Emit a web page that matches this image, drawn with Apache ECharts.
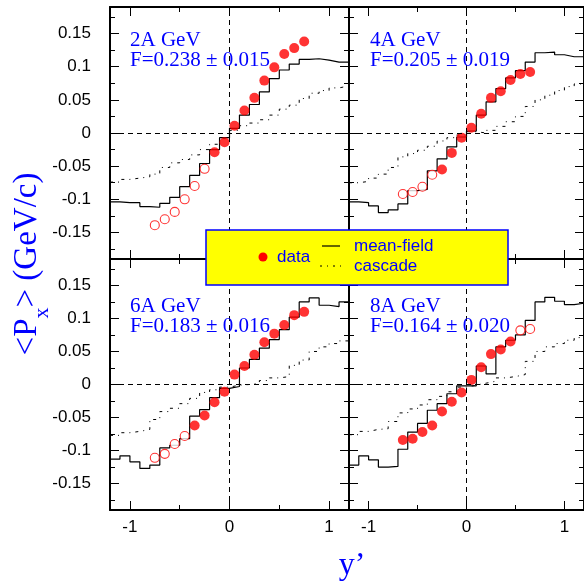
<!DOCTYPE html>
<html><head><meta charset="utf-8">
<script src="https://cdn.jsdelivr.net/npm/echarts@6/dist/echarts.min.js"></script>
<style>html,body{margin:0;padding:0;background:#fff}#c{width:584px;height:582px}</style>
</head><body><div id="c"></div>
<script>
// ---------- data ----------
const binEdges = [-1.2,-1.1,-1.0,-0.9,-0.8,-0.7,-0.6,-0.5,-0.4,-0.3,-0.2,-0.1,0,0.1,0.2,0.3,0.4,0.5,0.6,0.7,0.8,0.9,1.0,1.1,1.2];
const xTickMajor = [-1, 0, 1];
const xTickMinor = [-0.5, 0.5];
const xTickLabels = ['-1', '0', '1'];
const yTickMajor = [-0.15, -0.1, -0.05, 0, 0.05, 0.1, 0.15];
const yTickMinor = [-0.175, -0.125, -0.075, -0.025, 0.025, 0.075, 0.125, 0.175];
const yTickLabels = ['-0.15', '-0.1', '-0.05', '0', '0.05', '0.1', '0.15'];

const panelNames = ['2A GeV', '4A GeV', '6A GeV', '8A GeV'];
const panelF = ['F=0.238 \u00b1 0.015', 'F=0.205 \u00b1 0.019', 'F=0.183 \u00b1 0.016', 'F=0.164 \u00b1 0.020'];

// 2A GeV
const e2_openX = [-0.75, -0.65, -0.55, -0.45, -0.35, -0.25];
const e2_openY = [-0.139, -0.130, -0.119, -0.100, -0.080, -0.054];
const e2_fullX = [-0.15, -0.05, 0.05, 0.15, 0.25, 0.35, 0.45, 0.55, 0.65, 0.75];
const e2_fullY = [-0.029, -0.014, 0.011, 0.034, 0.053, 0.079, 0.099, 0.119, 0.128, 0.138];
const e2_meanField = [-0.104,-0.105,-0.105,-0.111,-0.112,-0.106,-0.097,-0.081,-0.064,-0.046,-0.025,-0.007,0.007,0.027,0.043,0.062,0.082,0.095,0.104,0.111,0.112,0.110,0.107,0.107];
const e2_cascade = [-0.074,-0.070,-0.068,-0.066,-0.062,-0.052,-0.045,-0.040,-0.033,-0.025,-0.017,-0.008,0.004,0.011,0.015,0.020,0.027,0.036,0.042,0.052,0.060,0.064,0.068,0.071];

// 4A GeV
const e4_openX = [-0.65, -0.55, -0.45, -0.35];
const e4_openY = [-0.092, -0.089, -0.081, -0.063];
const e4_fullX = [-0.25, -0.15, -0.05, 0.05, 0.15, 0.25, 0.35, 0.45, 0.55, 0.65];
const e4_fullY = [-0.055, -0.030, -0.007, 0.008, 0.029, 0.053, 0.063, 0.080, 0.089, 0.092];
const e4_meanField = [-0.104,-0.105,-0.110,-0.120,-0.116,-0.107,-0.087,-0.085,-0.057,-0.039,-0.021,-0.006,0.003,0.027,0.047,0.067,0.083,0.094,0.107,0.121,0.122,0.118,0.115,0.115];
const e4_cascade = [-0.075,-0.073,-0.068,-0.062,-0.052,-0.036,-0.031,-0.026,-0.020,-0.012,-0.007,-0.003,0.002,0.000,0.004,0.010,0.017,0.025,0.040,0.050,0.057,0.064,0.070,0.074];

// 6A GeV
const e6_openX = [-0.75, -0.65, -0.55, -0.45];
const e6_openY = [-0.111, -0.105, -0.090, -0.078];
const e6_fullX = [-0.35, -0.25, -0.15, -0.05, 0.05, 0.15, 0.25, 0.35, 0.45, 0.55, 0.65, 0.75];
const e6_fullY = [-0.062, -0.047, -0.027, -0.011, 0.015, 0.028, 0.045, 0.064, 0.077, 0.090, 0.105, 0.110];
const e6_meanField = [-0.113,-0.108,-0.117,-0.127,-0.122,-0.096,-0.092,-0.082,-0.048,-0.038,-0.020,-0.006,-0.003,0.025,0.038,0.055,0.068,0.083,0.102,0.125,0.131,0.120,0.118,0.125];
const e6_cascade = [-0.077,-0.073,-0.071,-0.068,-0.053,-0.041,-0.036,-0.029,-0.021,-0.012,-0.008,-0.004,-0.001,0.000,0.002,0.006,0.010,0.012,0.029,0.037,0.050,0.057,0.062,0.066];

// 8A GeV
const e8_openX = [0.55, 0.65];
const e8_openY = [0.082, 0.084];
const e8_fullX = [-0.65, -0.55, -0.45, -0.35, -0.25, -0.15, -0.05, 0.05, 0.15, 0.25, 0.35, 0.45];
const e8_fullY = [-0.084, -0.082, -0.072, -0.062, -0.041, -0.026, -0.012, 0.007, 0.026, 0.046, 0.053, 0.065];
const e8_meanField = [-0.122,-0.108,-0.114,-0.125,-0.124,-0.098,-0.072,-0.059,-0.039,-0.029,-0.014,-0.002,-0.002,0.028,0.016,0.057,0.067,0.075,0.097,0.125,0.132,0.126,0.121,0.123];
const e8_cascade = [-0.076,-0.071,-0.068,-0.067,-0.056,-0.043,-0.037,-0.031,-0.023,-0.018,-0.011,-0.004,-0.001,0.002,0.005,0.010,0.012,0.015,0.035,0.050,0.057,0.062,0.067,0.071];

const panels = [
  {openX: e2_openX, openY: e2_openY, fullX: e2_fullX, fullY: e2_fullY, mf: e2_meanField, ca: e2_cascade},
  {openX: e4_openX, openY: e4_openY, fullX: e4_fullX, fullY: e4_fullY, mf: e4_meanField, ca: e4_cascade},
  {openX: e6_openX, openY: e6_openY, fullX: e6_fullX, fullY: e6_fullY, mf: e6_meanField, ca: e6_cascade},
  {openX: e8_openX, openY: e8_openY, fullX: e8_fullX, fullY: e8_fullY, mf: e8_meanField, ca: e8_cascade}
];

// ---------- layout / style ----------
const SERIF = '"Liberation Serif", "Times New Roman", serif';
const SANS = '"Liberation Sans", Arial, sans-serif';
const BLUE = '#0000ff';
const RED = '#ff0000';
const grids = [
  {left: 110, top: 7, width: 239, height: 252},
  {left: 349, top: 7, width: 240, height: 252},
  {left: 110, top: 259, width: 239, height: 251},
  {left: 349, top: 259, width: 240, height: 251}
];
const labelPos = [
  {x: 130, y1: 40.5, y2: 60},
  {x: 370, y1: 40.5, y2: 60},
  {x: 130, y1: 306.5, y2: 326},
  {x: 370, y1: 306.5, y2: 326}
];

const xAxes = [], yAxes = [], series = [];
function stepData(vals) {
  return binEdges.map((e, i) => [e, vals[Math.min(i, vals.length - 1)]]);
}
panels.forEach((p, g) => {
  const showX = g >= 2, showY = (g % 2) === 0;
  const baseX = {type: 'value', gridIndex: g, min: -1.2, max: 1.2, splitLine: {show: false}};
  const baseY = {type: 'value', gridIndex: g, min: -0.19, max: 0.19, splitLine: {show: false}};
  xAxes.push(Object.assign({}, baseX, {
    position: 'bottom',
    axisLine: {show: true, onZero: false, lineStyle: {color: '#000', width: 2}},
    axisTick: {show: true, inside: true, length: 9, customValues: xTickMajor, lineStyle: {color: '#000', width: 1}},
    axisLabel: {show: showX, customValues: xTickMajor, margin: 9, fontSize: 17, fontFamily: SANS, color: '#000',
      formatter: v => xTickLabels[xTickMajor.indexOf(v)] ?? String(v)}
  }));
  xAxes.push(Object.assign({}, baseX, {
    position: 'bottom',
    axisLine: {show: false, onZero: false},
    axisTick: {show: true, inside: true, length: 5, customValues: xTickMinor, lineStyle: {color: '#000', width: 1}},
    axisLabel: {show: false}
  }));
  xAxes.push(Object.assign({}, baseX, {
    position: 'top',
    axisLine: {show: true, onZero: false, lineStyle: {color: '#000', width: 2}},
    axisTick: {show: true, inside: true, length: 9, customValues: xTickMajor, lineStyle: {color: '#000', width: 1}},
    axisLabel: {show: false}
  }));
  xAxes.push(Object.assign({}, baseX, {
    position: 'top',
    axisLine: {show: false, onZero: false},
    axisTick: {show: true, inside: true, length: 5, customValues: xTickMinor, lineStyle: {color: '#000', width: 1}},
    axisLabel: {show: false}
  }));
  yAxes.push(Object.assign({}, baseY, {
    position: 'left',
    axisLine: {show: true, onZero: false, lineStyle: {color: '#000', width: 2}},
    axisTick: {show: true, inside: true, length: 9, customValues: yTickMajor, lineStyle: {color: '#000', width: 1}},
    axisLabel: {show: showY, customValues: yTickMajor, margin: 19, fontSize: 17, fontFamily: SANS, color: '#000',
      formatter: v => yTickLabels[yTickMajor.findIndex(t => Math.abs(t - v) < 1e-9)] ?? String(v)}
  }));
  yAxes.push(Object.assign({}, baseY, {
    position: 'left',
    axisLine: {show: false, onZero: false},
    axisTick: {show: true, inside: true, length: 5, customValues: yTickMinor, lineStyle: {color: '#000', width: 1}},
    axisLabel: {show: false}
  }));
  yAxes.push(Object.assign({}, baseY, {
    position: 'right',
    axisLine: {show: true, onZero: false, lineStyle: {color: '#000', width: 2}},
    axisTick: {show: true, inside: true, length: 9, customValues: yTickMajor, lineStyle: {color: '#000', width: 1}},
    axisLabel: {show: false}
  }));
  yAxes.push(Object.assign({}, baseY, {
    position: 'right',
    axisLine: {show: false, onZero: false},
    axisTick: {show: true, inside: true, length: 5, customValues: yTickMinor, lineStyle: {color: '#000', width: 1}},
    axisLabel: {show: false}
  }));
  const xi = 4 * g, yi = 4 * g;
  series.push({
    type: 'line', xAxisIndex: xi, yAxisIndex: yi, step: 'end', symbol: 'none', silent: true,
    data: stepData(p.ca), lineStyle: {color: '#000', width: 1, type: [3, 5, 1, 5]}, z: 2,
    markLine: {silent: true, symbol: 'none', label: {show: false},
      lineStyle: {color: '#000', width: 1, type: [5, 4]},
      data: [{xAxis: 0}, {yAxis: 0}]}
  });
  series.push({
    type: 'line', xAxisIndex: xi, yAxisIndex: yi, step: 'end', symbol: 'none', silent: true,
    data: stepData(p.mf), lineStyle: {color: '#000', width: 1.2}, z: 3
  });
  series.push({
    type: 'scatter', xAxisIndex: xi, yAxisIndex: yi, silent: true, symbol: 'circle', symbolSize: 9,
    data: p.openX.map((x, i) => [x, p.openY[i]]),
    itemStyle: {color: '#fff', borderColor: RED, borderWidth: 1.1}, z: 4
  });
  series.push({
    type: 'scatter', xAxisIndex: xi, yAxisIndex: yi, silent: true, symbol: 'circle', symbolSize: 10,
    data: p.fullX.map((x, i) => [x, p.fullY[i]]),
    itemStyle: {color: RED}, z: 4
  });
});

// ---------- graphic texts ----------
const graphic = [];
panelNames.forEach((n, g) => {
  const lp = labelPos[g];
  graphic.push({type: 'text', x: lp.x, y: lp.y1, z: 50, silent: true,
    style: {text: n, fill: BLUE, font: '21px ' + SERIF, align: 'left', verticalAlign: 'middle'}});
  graphic.push({type: 'text', x: lp.x, y: lp.y2, z: 50, silent: true,
    style: {text: panelF[g], fill: BLUE, font: '21px ' + SERIF, align: 'left', verticalAlign: 'middle'}});
});

// legend box
graphic.push({type: 'rect', z: 100, silent: true, shape: {x: 206, y: 230, width: 302, height: 55},
  style: {fill: '#ffff00', stroke: BLUE, lineWidth: 1.5}});
graphic.push({type: 'circle', z: 101, silent: true, shape: {cx: 263, cy: 257, r: 4.5}, style: {fill: RED}});
graphic.push({type: 'text', z: 101, silent: true, x: 277, y: 257,
  style: {text: 'data', fill: BLUE, font: '17px ' + SANS, align: 'left', verticalAlign: 'middle'}});
graphic.push({type: 'line', z: 101, silent: true, shape: {x1: 322, y1: 246, x2: 340, y2: 246},
  style: {stroke: '#000', lineWidth: 1.2}});
graphic.push({type: 'text', z: 101, silent: true, x: 354, y: 246,
  style: {text: 'mean-field', fill: BLUE, font: '17px ' + SANS, align: 'left', verticalAlign: 'middle'}});
graphic.push({type: 'line', z: 101, silent: true, shape: {x1: 320, y1: 266, x2: 341, y2: 266},
  style: {stroke: '#000', lineWidth: 1, lineDash: [2, 5, 1, 5]}});
graphic.push({type: 'text', z: 101, silent: true, x: 354, y: 266,
  style: {text: 'cascade', fill: BLUE, font: '17px ' + SANS, align: 'left', verticalAlign: 'middle'}});

// x axis title
graphic.push({type: 'text', z: 50, silent: true, x: 352, y: 566,
  style: {text: 'y\u2019', fill: BLUE, font: '32px ' + SERIF, align: 'center', verticalAlign: 'middle'}});

// y axis title with subscript, rotated
(function () {
  const ctx = document.createElement('canvas').getContext('2d');
  const big = '33px ' + SERIF, small = '22px ' + SERIF;
  const parts = [['<P', big, 0], ['x', small, 15], ['> (GeV/c)', big, 0]];
  const widths = parts.map(pp => { ctx.font = pp[1]; return ctx.measureText(pp[0]).width; });
  const total = widths.reduce((a, b) => a + b, 0);
  let cur = -total / 2;
  const children = parts.map((pp, i) => {
    const el = {type: 'text', x: cur, y: pp[2], silent: true,
      style: {text: pp[0], fill: BLUE, font: pp[1], align: 'left', verticalAlign: 'middle'}};
    cur += widths[i];
    return el;
  });
  graphic.push({type: 'group', x: 27, y: 264, rotation: Math.PI / 2, z: 50, children: children});
})();

const chart = echarts.init(document.getElementById('c'), null, {renderer: 'canvas'});
chart.setOption({
  animation: false,
  backgroundColor: '#fff',
  grid: grids.map(gr => Object.assign({containLabel: false, show: false}, gr)),
  xAxis: xAxes,
  yAxis: yAxes,
  series: series,
  graphic: graphic
});
</script>
</body></html>
